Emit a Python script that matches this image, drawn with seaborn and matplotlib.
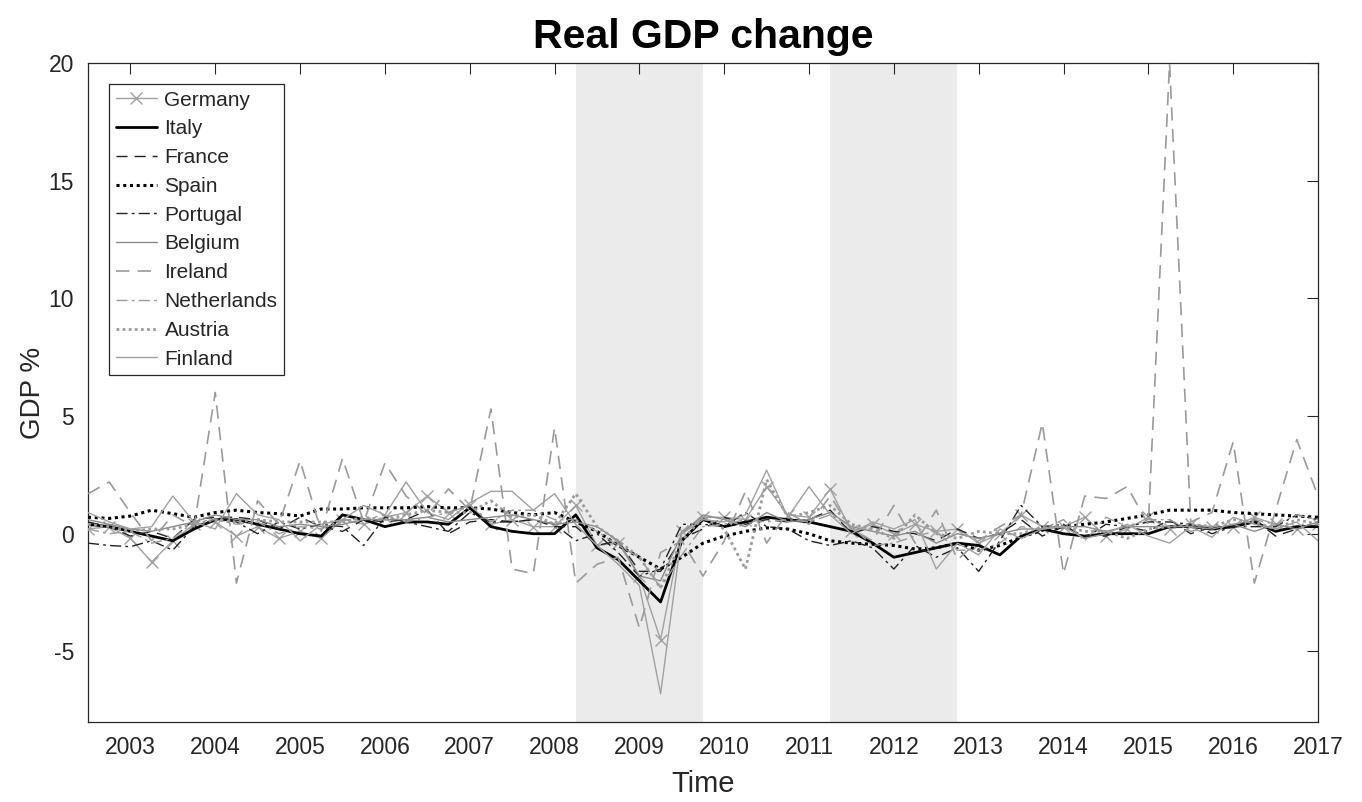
import numpy as np
import pandas as pd
import matplotlib
matplotlib.use("Agg")
import matplotlib.pyplot as plt
import seaborn as sns

# Quarterly time axis (2002Q2 .. 2016Q4 plotted as year + quarter/4)
time = [2002.5 + 0.25 * i for i in range(59)]

germany = [0.2, 0.3, -0.2, -1.2, -0.3, 0.4, 0.5, -0.1, 0.3, -0.2,
           0.1, -0.2, 0.6, 0.4, 0.7, 0.9, 1.6, 0.9, 1.2, 0.4,
           0.6, 0.3, 0.3, 1.2, -0.5, -0.4, -1.8, -4.5, 0.1, 0.7,
           0.7, 0.6, 2.0, 0.8, 0.7, 1.9, 0.1, 0.4, 0.0, 0.4,
           0.1, 0.2, -0.4, 0.0, 0.8, 0.3, 0.3, 0.7, -0.1, 0.2,
           0.7, 0.2, 0.4, 0.3, 0.3, 0.7, 0.4, 0.2, 0.4]
italy = [0.4, 0.3, 0.1, -0.1, -0.3, 0.2, 0.6, 0.6, 0.4, 0.2,
         0.0, -0.1, 0.8, 0.6, 0.3, 0.5, 0.5, 0.4, 1.1, 0.3,
         0.1, 0.0, 0.0, 0.8, -0.6, -1.1, -2.0, -2.9, -0.3, 0.6,
         0.3, 0.5, 0.7, 0.6, 0.5, 0.3, 0.1, -0.4, -1.0, -0.8,
         -0.6, -0.4, -0.5, -0.9, -0.1, 0.2, 0.0, -0.1, 0.0, 0.0,
         0.0, 0.3, 0.3, 0.2, 0.3, 0.5, 0.1, 0.3, 0.3]
france = [0.5, 0.3, -0.1, 0.1, -0.2, 0.6, 0.7, 0.7, 0.6, 0.2,
          0.7, 0.3, 0.1, 0.6, 0.5, 0.6, 1.0, 0.0, 0.5, 0.6,
          0.5, 0.6, 0.3, 0.3, -0.5, -0.3, -1.6, -1.6, -0.2, 0.2,
          0.7, 0.4, 0.6, 0.5, 0.6, 1.0, 0.0, 0.3, 0.1, 0.0,
          -0.3, 0.2, -0.2, 0.0, 0.6, -0.1, 0.3, -0.1, -0.1, 0.3,
          0.1, 0.6, 0.0, 0.3, 0.3, 0.6, -0.1, 0.2, 0.5]
spain = [0.7, 0.65, 0.75, 1.0, 0.85, 0.7, 0.9, 1.0, 0.9, 0.85,
         0.75, 1.05, 1.05, 1.1, 1.1, 1.1, 1.15, 1.1, 1.1, 1.05,
         0.9, 0.8, 0.9, 0.5, 0.1, -0.5, -1.0, -1.5, -1.0, -0.4,
         -0.1, 0.1, 0.25, 0.2, 0.0, -0.3, -0.4, -0.45, -0.5, -0.65,
         -0.6, -0.4, -0.7, -0.5, -0.15, 0.15, 0.3, 0.4, 0.5, 0.65,
         0.8, 1.0, 1.0, 1.0, 0.9, 0.85, 0.8, 0.75, 0.7]
portugal = [-0.4, -0.5, -0.55, -0.3, -0.7, 0.3, 0.6, 0.5, 0.0, 0.5,
            0.2, 0.4, 0.3, -0.5, 0.7, 0.5, 0.3, 0.1, 0.9, 0.5,
            0.5, 0.6, 0.4, -0.3, 0.0, -0.8, -1.8, -1.5, 0.4, 0.4,
            0.3, 0.9, 0.3, 0.2, -0.3, -0.5, -0.3, -0.6, -1.5, -0.5,
            -1.0, -0.6, -1.6, -0.3, 1.2, 0.3, 0.4, -0.2, 0.4, 0.3,
            0.5, 0.5, 0.4, 0.0, 0.3, 0.3, 0.3, 0.8, 0.6]
belgium = [0.6, 0.4, 0.2, 0.1, 0.3, 0.5, 0.8, 0.6, 0.6, 0.3,
           0.4, 0.3, 0.4, 0.6, 0.6, 0.6, 0.7, 0.5, 0.6, 0.7,
           0.8, 0.6, 0.4, 0.5, 0.3, -0.3, -1.8, -2.0, 0.0, 0.8,
           0.6, 0.3, 0.9, 0.5, 0.6, 0.9, 0.3, 0.1, -0.1, 0.1,
           -0.4, 0.0, -0.2, 0.0, 0.2, 0.2, 0.3, 0.3, 0.1, 0.3,
           0.3, 0.3, 0.3, 0.2, 0.4, 0.1, 0.4, 0.2, 0.5]
ireland = [1.7, 2.2, 0.9, -0.3, 0.8, 0.3, 6.0, -2.1, 1.4, 0.4,
           3.1, 0.1, 3.2, 0.5, 3.0, 1.6, 0.8, 1.9, 1.0, 5.3,
           -1.5, -1.7, 4.5, -2.1, -1.3, -1.0, -4.0, -0.8, -0.3, -1.8,
           -0.3, 1.8, -0.4, 0.9, 0.4, 1.6, 0.2, -0.3, 1.2, -0.4,
           1.0, -1.1, -0.3, 0.3, 0.8, 4.7, -1.7, 1.6, 1.5, 2.0,
           0.4, 20.0, 0.5, 0.9, 3.9, -2.1, 1.0, 4.0, 1.6]
netherlands = [0.2, 0.0, 0.1, -0.4, -0.2, 0.5, 0.6, 0.4, 0.5, 0.0,
               0.3, 0.2, 0.6, 0.6, 0.8, 0.5, 0.7, 0.9, 1.2, 0.5,
               1.0, 1.0, 0.6, 0.6, 0.1, -0.5, -1.0, -2.3, -0.9, 0.3,
               0.4, 0.6, 0.5, 0.6, 0.5, 0.8, 0.3, -0.5, -0.4, -0.1,
               0.1, -0.7, -0.7, -0.4, 0.3, 0.2, 0.6, -0.3, 0.7, 0.3,
               0.6, 0.6, 0.1, 0.3, 0.4, 0.6, 0.4, 0.8, 0.6]
austria = [0.4, 0.3, 0.1, 0.2, 0.2, 0.4, 0.6, 0.5, 0.6, 0.5,
           0.5, 0.5, 0.5, 0.7, 0.6, 0.8, 1.0, 0.9, 0.9, 1.4,
           0.7, 0.8, 0.4, 1.7, 0.3, -0.3, -1.0, -2.3, -0.3, 0.7,
           0.2, -1.5, 2.3, 0.7, 0.9, 1.2, 0.4, 0.2, -0.2, 0.8,
           0.0, -0.2, 0.1, 0.0, 0.0, 0.3, 0.3, 0.1, 0.1, -0.2,
           0.2, 0.3, 0.4, 0.3, 0.6, 0.5, 0.2, 0.6, 0.4]
finland = [0.9, 0.5, 0.2, 0.3, 1.6, 0.5, 0.2, 1.7, 0.8, 0.6,
           -0.3, 0.4, 0.6, 1.2, 0.8, 2.2, 0.9, 0.6, 1.3, 1.8,
           1.8, 1.0, 1.7, 0.4, -0.5, -1.3, -2.2, -6.8, 0.0, 0.6,
           0.5, 0.8, 2.7, 0.7, 2.0, 0.8, 0.0, 0.5, 0.2, 0.6,
           -1.5, -0.4, -0.9, 0.2, -0.2, 0.2, 0.3, -0.2, 0.0, 0.4,
           -0.1, -0.4, 0.3, -0.15, 0.7, 0.4, 0.2, 0.5, -0.3]

recessions = [(2008.25, 2009.75), (2011.25, 2012.75)]
year_ticks = list(range(2003, 2018))
y_ticks = [-5, 0, 5, 10, 15, 20]

series = {
    "Germany": germany, "Italy": italy, "France": france, "Spain": spain,
    "Portugal": portugal, "Belgium": belgium, "Ireland": ireland,
    "Netherlands": netherlands, "Austria": austria, "Finland": finland,
}

styles = {
    "Germany":     dict(color="#a0a0a0", linewidth=1.0, linestyle="-", marker="x",
                        markersize=9, markeredgewidth=1.0, markeredgecolor="#a0a0a0"),
    "Italy":       dict(color="#000000", linewidth=2.0, linestyle="-"),
    "France":      dict(color="#222222", linewidth=1.0, linestyle=(0, (8, 5))),
    "Spain":       dict(color="#000000", linewidth=2.2, linestyle=(0, (1, 1.2))),
    "Portugal":    dict(color="#222222", linewidth=1.0, linestyle=(0, (8, 3, 2, 3))),
    "Belgium":     dict(color="#8a8a8a", linewidth=1.0, linestyle="-"),
    "Ireland":     dict(color="#9a9a9a", linewidth=1.2, linestyle=(0, (8, 5))),
    "Netherlands": dict(color="#9a9a9a", linewidth=1.0, linestyle=(0, (8, 3, 2, 3))),
    "Austria":     dict(color="#9a9a9a", linewidth=2.0, linestyle=(0, (1, 1.2))),
    "Finland":     dict(color="#a0a0a0", linewidth=1.0, linestyle="-"),
}

sns.set_theme(style="white")
plt.rcParams["font.family"] = ["Liberation Sans", "DejaVu Sans"]
plt.rcParams["axes.unicode_minus"] = False

fig = plt.figure(figsize=(13.62, 8.02), dpi=100)
ax = fig.add_axes([88 / 1362, 1 - 722 / 802, (1318 - 88) / 1362, (722 - 63) / 802])

for a, b in recessions:
    ax.axvspan(a, b, color="#ebebeb", zorder=0, linewidth=0)

for name, vals in series.items():
    df = pd.DataFrame({"Time": time, "GDP": vals})
    sns.lineplot(data=df, x="Time", y="GDP", ax=ax, label=name,
                 estimator=None, zorder=3, **styles[name])

ax.set_xlim(2002.5, 2017)
ax.set_ylim(-8, 20)
ax.set_xticks(year_ticks)
ax.set_yticks(y_ticks)
ax.tick_params(direction="in", length=8, width=0.8, top=True, right=True,
               labelsize=16.5, colors="#262626", pad=10)
for sp in ax.spines.values():
    sp.set_color("#262626")
    sp.set_linewidth(0.9)

ax.set_title("Real GDP change", fontsize=29.5, fontweight="bold", pad=11, color="black")
ax.set_xlabel("Time", fontsize=21, color="#262626", labelpad=8)
ax.set_ylabel("GDP %", fontsize=20, color="#262626", labelpad=2)

leg = ax.legend(loc="upper left", fontsize=15, frameon=True, fancybox=False,
                framealpha=1, edgecolor="#262626", handlelength=2.0,
                handletextpad=0.35, labelspacing=0.47, borderpad=0.32,
                borderaxespad=1.0)
leg.get_frame().set_linewidth(0.9)

fig.savefig("out.png", dpi=100)
